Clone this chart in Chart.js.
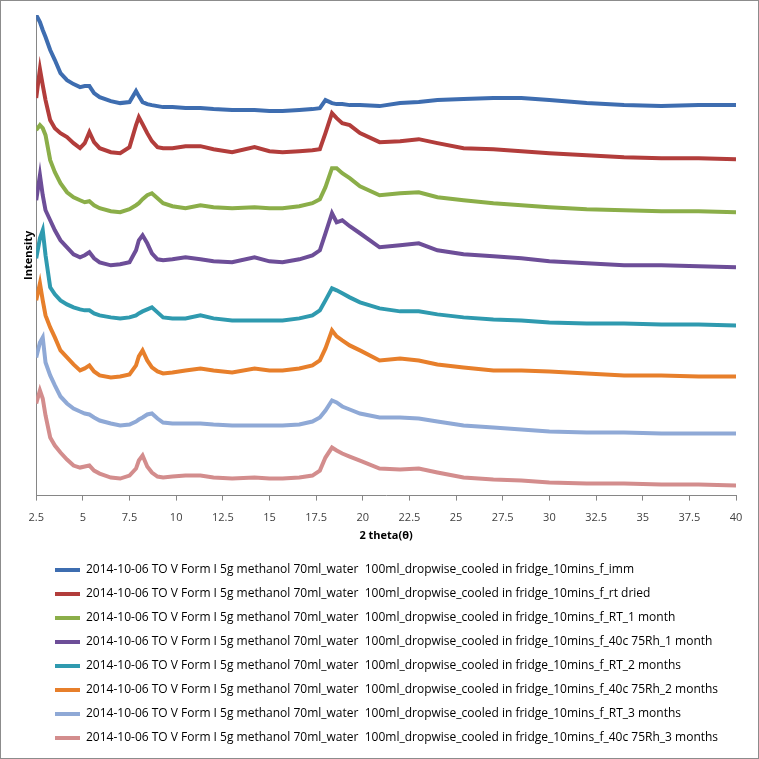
<!DOCTYPE html>
<html>
<head>
<meta charset="utf-8">
<script src="https://cdn.jsdelivr.net/npm/chart.js@4"></script>
<style>
    html, body { margin: 0; padding: 0; background: #fff; }
    #wrap { width: 759px; height: 759px; box-sizing: border-box; border: 1px solid #8c8c8c; }
</style>
</head>
<body>
<div id="wrap"><canvas id="xrdChart"></canvas></div>
<script>
// 2 theta positions (degrees) shared by every pattern
const twoTheta = [2.5, 2.7, 2.85, 3.0, 3.25, 3.5, 3.8, 4.15, 4.5, 4.85, 5.1, 5.35, 5.6, 5.9, 6.5, 7.0, 7.5, 7.85, 8.0, 8.2,
    8.45, 8.7, 9.0, 9.3, 9.8, 10.5, 11.3, 12.0, 13.0, 14.2, 15.0, 15.7, 16.6, 17.3, 17.7, 18.0, 18.35, 18.6, 18.9, 19.3,
    19.85, 20.9, 22.0, 23.0, 24.0, 25.4, 27.0, 28.5, 30.0, 32.0, 34.0, 36.0, 38.0, 40.0];

const xTicks = [2.5, 5, 7.5, 10, 12.5, 15, 17.5, 20, 22.5, 25, 27.5, 30, 32.5, 35, 37.5, 40];

const seriesLabels = [
    '2014-10-06 TO V Form I 5g methanol 70ml_water  100ml_dropwise_cooled in fridge_10mins_f_imm',
    '2014-10-06 TO V Form I 5g methanol 70ml_water  100ml_dropwise_cooled in fridge_10mins_f_rt dried',
    '2014-10-06 TO V Form I 5g methanol 70ml_water  100ml_dropwise_cooled in fridge_10mins_f_RT_1 month',
    '2014-10-06 TO V Form I 5g methanol 70ml_water  100ml_dropwise_cooled in fridge_10mins_f_40c 75Rh_1 month',
    '2014-10-06 TO V Form I 5g methanol 70ml_water  100ml_dropwise_cooled in fridge_10mins_f_RT_2 months',
    '2014-10-06 TO V Form I 5g methanol 70ml_water  100ml_dropwise_cooled in fridge_10mins_f_40c 75Rh_2 months',
    '2014-10-06 TO V Form I 5g methanol 70ml_water  100ml_dropwise_cooled in fridge_10mins_f_RT_3 months',
    '2014-10-06 TO V Form I 5g methanol 70ml_water  100ml_dropwise_cooled in fridge_10mins_f_40c 75Rh_3 months'
];

// intensities (offset, arbitrary units)
const imm = [480, 473, 465, 458, 445, 435, 422, 415, 411, 408, 409, 409, 402, 398, 394, 392, 393, 404, 399, 393,
    391, 390, 389, 388, 388, 387, 387, 386, 385, 385, 384, 384, 385, 386, 387, 395, 392, 391, 391, 390,
    390, 389, 392, 393, 395, 396, 397, 397, 395, 392, 390, 389, 390, 390];
const rtDried = [397, 426, 410, 395, 375, 367, 362, 358, 352, 347, 352, 363, 353, 347, 343, 342, 348, 370, 378, 371,
    362, 354, 348, 347, 347, 349, 349, 346, 343, 348, 344, 343, 344, 345, 346, 362, 382, 377, 372, 370,
    362, 353, 354, 356, 352, 347, 346, 344, 342, 340, 338, 337, 337, 336];
const rt1Month = [365, 370, 367, 360, 335, 323, 312, 303, 298, 295, 293, 294, 290, 287, 284, 283, 286, 290, 292, 296,
    300, 302, 297, 292, 289, 287, 290, 288, 287, 288, 287, 287, 289, 292, 296, 308, 327, 327, 322, 317,
    309, 300, 302, 303, 298, 295, 292, 290, 288, 286, 285, 284, 284, 283];
const rh1Month = [295, 320, 300, 285, 275, 265, 255, 248, 241, 238, 240, 243, 237, 233, 230, 231, 233, 245, 255, 260,
    252, 242, 236, 235, 236, 238, 236, 234, 233, 238, 234, 233, 236, 240, 245, 262, 282, 273, 275, 269,
    262, 248, 250, 252, 245, 241, 239, 237, 234, 232, 230, 230, 229, 228];
const rt2Months = [237, 257, 265, 240, 208, 201, 195, 191, 188, 186, 185, 185, 182, 180, 178, 177, 178, 180, 182, 184,
    186, 188, 183, 178, 177, 177, 180, 177, 175, 175, 175, 175, 177, 180, 185, 195, 207, 205, 202, 198,
    193, 187, 184, 184, 181, 178, 176, 175, 173, 172, 172, 171, 171, 170];
const rh2Months = [195, 212, 195, 180, 168, 158, 145, 138, 131, 125, 127, 130, 124, 120, 118, 119, 121, 130, 139, 145,
    135, 128, 124, 122, 123, 125, 127, 125, 123, 127, 125, 125, 127, 130, 135, 147, 165, 159, 155, 150,
    145, 135, 137, 135, 131, 128, 125, 125, 124, 122, 120, 120, 119, 119];
const rt3Months = [138, 153, 158, 133, 120, 110, 99, 92, 87, 84, 82, 81, 78, 75, 72, 70, 71, 74, 76, 78,
    81, 82, 77, 73, 72, 72, 72, 71, 70, 70, 70, 70, 71, 74, 78, 85, 95, 93, 89, 86,
    82, 78, 78, 77, 74, 70, 68, 66, 64, 63, 63, 62, 62, 62];
const rh3Months = [92, 105, 97, 80, 58, 50, 43, 36, 30, 28, 29, 30, 25, 22, 18, 17, 20, 27, 35, 40,
    29, 23, 19, 18, 19, 20, 20, 18, 17, 18, 17, 17, 18, 20, 25, 38, 48, 45, 42, 39,
    35, 27, 26, 27, 23, 18, 16, 15, 13, 12, 12, 11, 11, 10];

const seriesValues = [imm, rtDried, rt1Month, rh1Month, rt2Months, rh2Months, rt3Months, rh3Months];
const seriesColors = ['#3e6db0', '#b23d3b', '#8bae49', '#6d4e98', '#2f9aaf', '#e77f2b', '#8fa9d6', '#d38d8d'];

document.addEventListener('DOMContentLoaded', () => {
    const ctx = document.getElementById('xrdChart');

    // nudge the legend right so it lines up like the Excel one
    const legendShift = {
        id: 'legendShift',
        afterLayout(chart) {
            chart.legend.left += 27;
            chart.legend.right += 27;
        }
    };

    new Chart(ctx, {
        type: 'line',
        data: {
            datasets: seriesValues.map((vals, i) => ({
                label: seriesLabels[i],
                data: twoTheta.map((x, j) => ({ x: x, y: vals[j] })),
                borderColor: seriesColors[i],
                backgroundColor: seriesColors[i],
                borderWidth: 4,
                pointRadius: 0,
                tension: 0
            }))
        },
        options: {
            responsive: true,
            maintainAspectRatio: false,
            animation: false,
            layout: { padding: { left: 15, right: 22, top: 14, bottom: 4 } },
            scales: {
                x: {
                    type: 'linear',
                    min: 2.5,
                    max: 40,
                    afterBuildTicks: (axis) => { axis.ticks = xTicks.map(v => ({ value: v })); },
                    ticks: {
                        autoSkip: false,
                        maxRotation: 0,
                        padding: 11,
                        color: '#404040',
                        font: { family: 'Open Sans', size: 11 },
                        callback: (v) => String(v)
                    },
                    grid: { display: true, drawOnChartArea: false, drawTicks: true, tickLength: 5, color: '#868686' },
                    border: { display: true, color: '#868686', width: 1 },
                    title: {
                        display: true,
                        text: '2 theta(θ)',
                        color: '#000',
                        font: { family: 'Open Sans', size: 11, weight: 'bold' },
                        padding: { top: -7, bottom: 10 }
                    }
                },
                y: {
                    min: 0,
                    max: 480,
                    ticks: { display: false },
                    grid: { display: false, drawTicks: false },
                    border: { display: true, color: '#868686', width: 1 },
                    title: {
                        display: true,
                        text: 'Intensity',
                        color: '#000',
                        font: { family: 'Open Sans', size: 11, weight: 'bold' },
                        padding: { top: 6, bottom: 1 }
                    }
                }
            },
            plugins: {
                legend: {
                    position: 'bottom',
                    align: 'start',
                    labels: {
                        usePointStyle: true,
                        pointStyle: 'line',
                        pointStyleWidth: 25,
                        padding: 12,
                        color: '#000',
                        font: { family: 'Open Sans', size: 12 }
                    }
                },
                tooltip: { enabled: false }
            }
        },
        plugins: [legendShift]
    });
});
</script>
</body>
</html>
